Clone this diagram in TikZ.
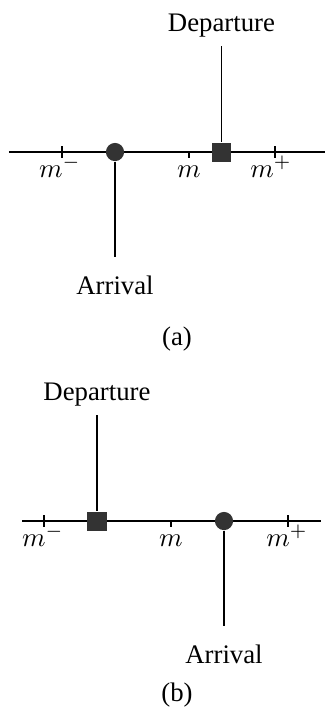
\documentclass[tikz,border=0pt]{standalone}
\usepackage{fontspec}
\setmainfont{Liberation Serif}
\tikzset{
  axisline/.style={line width=0.75pt},
  ticks/.style={line width=0.4pt},
  conn/.style={line width=0.4pt},
  arrdot/.style={circle,fill=black!80,inner sep=0pt,minimum size=6.8pt},
  depbox/.style={rectangle,fill=black!80,inner sep=0pt,minimum size=7.1pt},
  lab/.style={anchor=base,inner sep=0pt},
  txt/.style={anchor=base}
}
\begin{document}
\begin{tikzpicture}[x=0.3735pt,y=-0.3735pt]
  \useasboundingbox (0,0) rectangle (325,719);
  % (a)
  \draw[axisline] (9,152) coordinate (al) -- (325,152) coordinate (ar);
  \draw[ticks] (62,146) -- (62,158);
  \draw[ticks] (189,152) -- (189,158);
  \draw[ticks] (275,146) -- (275,158);
  \node[lab] (amm) at (60,177) {$m^-$};
  \node[lab] (am) at (189,177) {$m$};
  \node[lab] (amp) at (271,177) {$m^+$};
  \node[arrdot] (aarr) at (115,152) {};
  \node[depbox] (adep) at (221.5,152) {};
  \node[txt] (adeptxt) at (221.5,31) {Departure};
  \node[txt] (aarrtxt) at (115,294) {Arrival};
  \node[txt] (acap) at (177,345) {(a)};
  \begin{scope}[conn]
    \draw (adeptxt) -- (adep);
    \draw[shorten >=3.2pt] (aarr) -- (aarrtxt);
  \end{scope}
  % (b)
  \draw[axisline] (22,521) coordinate (bl) -- (321,521) coordinate (br);
  \draw[ticks] (44,515) -- (44,527);
  \draw[ticks] (171,521) -- (171,527);
  \draw[ticks] (288,515) -- (288,527);
  \node[lab] (bmm) at (43,546) {$m^-$};
  \node[lab] (bm) at (171,546) {$m$};
  \node[lab] (bmp) at (287,546) {$m^+$};
  \node[depbox] (bdep) at (97,521) {};
  \node[arrdot] (barr) at (224,521) {};
  \node[txt] (bdeptxt) at (97,400) {Departure};
  \node[txt] (barrtxt) at (224,663) {Arrival};
  \node[txt] (bcap) at (177,701) {(b)};
  \begin{scope}[conn]
    \draw (bdeptxt) -- (bdep);
    \draw[shorten >=3.2pt] (barr) -- (barrtxt);
  \end{scope}
\end{tikzpicture}
\end{document}
